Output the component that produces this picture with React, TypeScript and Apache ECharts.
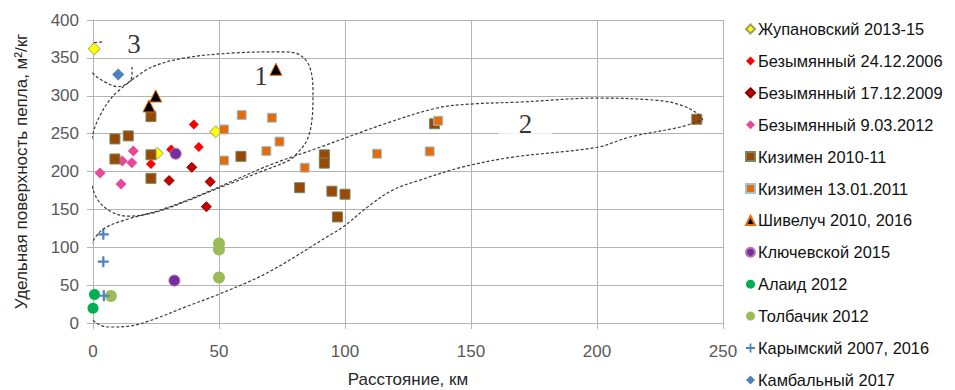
import React, { useEffect, useRef } from "react";
import * as echarts from "echarts";

// ---- Data (distance km, specific surface m²/kg) ----
const zhupanovsky = [[0.5, 362], [48.7, 252.5], [25.5, 224]];
const bez2006 = [[40, 262], [42, 232.5], [31, 229], [23, 210]];
const bez2009 = [[39.2, 205.5], [30.2, 188], [46.5, 186.5], [45, 153.5]];
const bez2012 = [[16, 227], [11.6, 214], [15.4, 211.6], [2.8, 198], [11.1, 183.5]];
const kiz2010 = [[8.7, 243], [14, 247], [23, 272.5], [23, 222], [8.7, 216.5], [23, 191], [58.7, 220], [91.8, 222], [91.8, 211], [82, 178.6], [94.8, 174], [100, 170], [97, 140], [135.5, 263], [239.6, 269]];
const kiz2011 = [[52, 255.5], [52, 214.5], [59, 274.6], [71, 271], [74, 239.5], [68.8, 227], [84, 205], [112.7, 223.5], [133.6, 226.5], [137, 267]];
const shiveluch = [[22.2, 286.5], [24.9, 299.7], [72.6, 335]];
const klyuchevskoy = [[32.8, 223.5], [32.3, 56]];
const alaid = [[0.6, 37.5], [0, 19.5]];
const tolbachik = [[7.1, 35.6], [50, 105], [50, 97], [50, 60]];
const karymsky = [[4.1, 117], [4.1, 81], [4.3, 36]];
const kambalny = [[10, 328]];

const seriesNames = [
  "Жупановский 2013-15",
  "Безымянный 24.12.2006",
  "Безымянный 17.12.2009",
  "Безымянный 9.03.2012",
  "Кизимен 2010-11",
  "Кизимен 13.01.2011",
  "Шивелуч 2010, 2016",
  "Ключевской 2015",
  "Алаид 2012",
  "Толбачик 2012",
  "Карымский 2007, 2016",
  "Камбальный 2017",
];

const xTicks = [0, 250, 50];
const yTicks = [0, 400, 50];

// ---- Hand-drawn group outlines (data units) ----
const outline1 = [[15.5, 321], [23.4, 338], [36.5, 350], [56, 356.5], [75.4, 358], [82, 354], [86, 338], [87.3, 304], [87, 272], [85, 242], [81, 224], [78, 215], [66, 199], [56, 186], [46, 173], [36.5, 160], [23.4, 145], [14, 141], [7.5, 146.5], [2, 162], [-0.8, 189], [-1.2, 222], [0, 250], [2.5, 272], [7.5, 298], [15.5, 321]];
const outline2 = [[242, 268], [239.7, 277], [233, 288], [223.8, 294], [201, 297], [169.4, 291.7], [149.6, 289], [136.5, 283.8], [116.7, 264], [90, 232], [70.2, 208.6], [56.3, 188.8], [42.5, 169], [26.6, 149], [12.7, 136], [3.6, 122.8], [-1.2, 99], [-3.2, 56.8], [-2.4, 21], [0.8, 1.3], [6.7, -5.3], [14.7, -4], [23.4, 4], [36.5, 21], [49.2, 37], [69, 66], [94, 116], [99.2, 126.7], [110, 155.8], [119, 175.6], [129.8, 188.8], [146.8, 206], [166.7, 219], [200, 232], [213, 245.5], [233, 258.7], [242, 268]];
const outline3 = [[3.6, 371], [-2, 367], [-3.2, 350], [-0.4, 331], [4.8, 318], [9.9, 312], [13.9, 317], [15.5, 327], [15.5, 338]];

const groupLabels = ["1", "2", "3"];
const groupLabelPos = [[66.7, 326], [171.6, 262.7], [16.3, 368.3]];

const PLUS = "path://M4,0L6,0L6,4L10,4L10,6L6,6L6,10L4,10L4,6L0,6L0,4L4,4Z";

export default function App() {
  const ref = useRef<HTMLDivElement>(null);
  useEffect(() => {
    const chart = echarts.init(ref.current!, null, { renderer: "svg" });
    const sc = (name: string, data: number[][], symbol: string, size: number, color: string, border?: string) => ({
      type: "scatter",
      name,
      data,
      symbol,
      symbolSize: size,
      itemStyle: { color, borderColor: border || color, borderWidth: border ? 1 : 0, opacity: 1 },
      z: 3,
    });
    const outline = (data: number[][]) => ({
      type: "line",
      data,
      smooth: 0.35,
      showSymbol: false,
      symbol: "none",
      clip: false,
      silent: true,
      lineStyle: { color: "#3a3a3a", width: 1.2, type: [3, 2] },
      z: 4,
    });
    const gridColor = "#b3b3b3";
    chart.setOption({
      animation: false,
      backgroundColor: "#ffffff",
      textStyle: { fontFamily: "Liberation Sans, Arial, sans-serif" },
      grid: { left: 93, right: 232, top: 20, bottom: 67, containLabel: false, outerBoundsMode: "none" },
      xAxis: {
        type: "value",
        min: xTicks[0],
        max: xTicks[1],
        interval: xTicks[2],
        name: "Расстояние, км",
        nameLocation: "middle",
        nameGap: 48,
        nameTextStyle: { fontSize: 17, color: "#262626" },
        axisLine: { show: true, lineStyle: { color: gridColor } },
        axisTick: { show: true, length: 6, lineStyle: { color: gridColor } },
        axisLabel: { fontSize: 17, color: "#595959", margin: 20 },
        splitLine: { show: true, lineStyle: { color: gridColor, width: 1 } },
      },
      yAxis: {
        type: "value",
        min: yTicks[0],
        max: yTicks[1],
        interval: yTicks[2],
        name: "Удельная поверхность пепла, м²/кг",
        nameLocation: "middle",
        nameGap: 63,
        nameTextStyle: { fontSize: 17, color: "#262626" },
        axisLine: { show: true, lineStyle: { color: gridColor } },
        axisTick: { show: true, length: 6, lineStyle: { color: gridColor } },
        axisLabel: { fontSize: 17, color: "#595959", margin: 14 },
        splitLine: { show: true, lineStyle: { color: gridColor, width: 1 } },
      },
      legend: {
        orient: "vertical",
        left: 745,
        top: 20,
        padding: 0,
        itemWidth: 9,
        itemHeight: 9,
        itemGap: 13.9,
        data: seriesNames,
        textStyle: { fontSize: 16.4, color: "#111", lineHeight: 18, padding: [0, 0, 0, -2] },
      },
      series: [
        sc(seriesNames[0], zhupanovsky, "diamond", 12, "#FFFF00", "#a0a060"),
        sc(seriesNames[1], bez2006, "diamond", 10, "#FF0000"),
        sc(seriesNames[2], bez2009, "diamond", 10, "#C80000", "#8a0000"),
        sc(seriesNames[3], bez2012, "diamond", 11, "#E8489B"),
        sc(seriesNames[4], kiz2010, "rect", 10, "#984807", "#7a8660"),
        sc(seriesNames[5], kiz2011, "rect", 9, "#E46C0A", "#9cc3d8"),
        sc(seriesNames[6], shiveluch, "triangle", 12, "#000000", "#E46C0A"),
        sc(seriesNames[7], klyuchevskoy, "circle", 11, "#7030A0", "#c070b0"),
        sc(seriesNames[8], alaid, "circle", 11, "#00B050"),
        sc(seriesNames[9], tolbachik, "circle", 12, "#9BBB59"),
        sc(seriesNames[10], karymsky, PLUS, 11, "#4F81BD"),
        sc(seriesNames[11], kambalny, "diamond", 12, "#4F81BD"),
        outline(outline1),
        outline(outline2),
        outline(outline3),
        {
          type: "scatter",
          data: groupLabels.map((t, i) => ({
            value: groupLabelPos[i],
            text: t,
            label: t === "1" ? { backgroundColor: "transparent", padding: 0 } : {},
          })),
          symbol: "rect",
          symbolSize: 1,
          silent: true,
          itemStyle: { color: "rgba(0,0,0,0)" },
          label: {
            show: true,
            position: "inside",
            formatter: (p: any) => p.data.text,
            fontFamily: "Liberation Serif, Times New Roman, serif",
            fontSize: 27,
            color: "#000",
            backgroundColor: "#ffffff",
            padding: [0, 20],
          },
          z: 5,
        },
      ],
    });
    return () => chart.dispose();
  }, []);
  return <div ref={ref} style={{ position: "fixed", left: 0, top: 0, width: 955, height: 390 }} />;
}
